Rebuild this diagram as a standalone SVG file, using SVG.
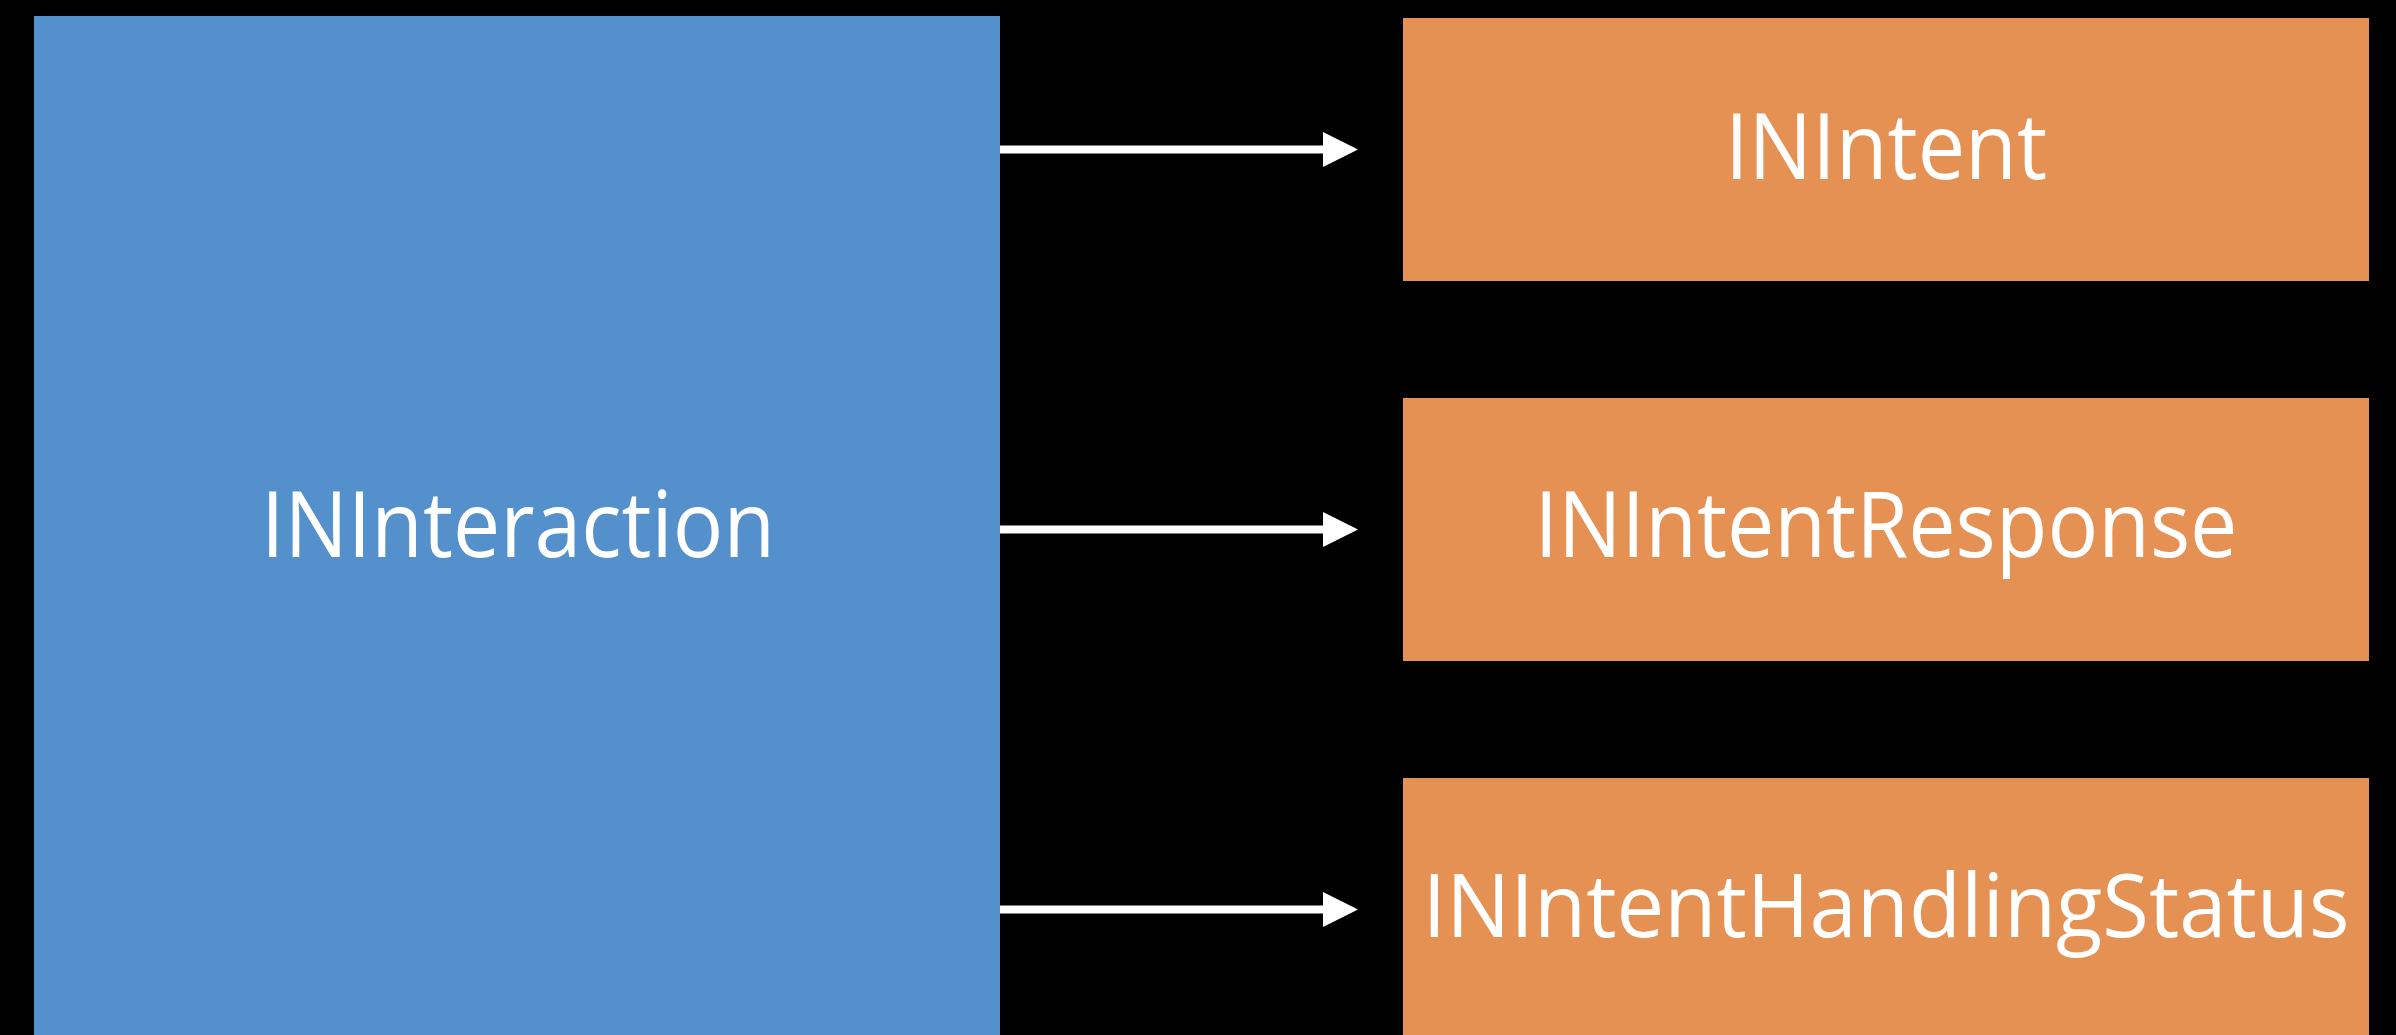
<svg xmlns="http://www.w3.org/2000/svg" width="2396" height="1035" viewBox="0 0 2396 1035">
  <style>
    .interaction { fill: #5490cc; }
    .member { fill: #e69154; }
    .label { fill: #ffffff; font-family: "Open Sans", "Noto Sans", sans-serif; font-size: 92px; text-anchor: middle; }
    .label.long { font-size: 87px; }
    .link { stroke: #ffffff; stroke-width: 8; fill: none; }
    .head { fill: #ffffff; }
  </style>
  <rect x="0" y="0" width="2396" height="1035" fill="#000000"/>

  <g id="node-ininteraction">
    <rect class="interaction" x="34" y="16" width="966" height="1019"/>
    <text class="label" x="518" y="557" textLength="514" lengthAdjust="spacingAndGlyphs">INInteraction</text>
  </g>

  <g id="node-inintent">
    <rect class="member" x="1403" y="18" width="966" height="263"/>
    <text class="label" x="1886" y="179" textLength="322" lengthAdjust="spacingAndGlyphs">INIntent</text>
  </g>

  <g id="node-inintentresponse">
    <rect class="member" x="1403" y="398" width="966" height="263"/>
    <text class="label" x="1886" y="557" textLength="703" lengthAdjust="spacingAndGlyphs">INIntentResponse</text>
  </g>

  <g id="node-inintenthandlingstatus">
    <rect class="member" x="1403" y="778" width="966" height="257"/>
    <text class="label long" x="1886" y="937" textLength="927" lengthAdjust="spacingAndGlyphs">INIntentHandlingStatus</text>
  </g>

  <g id="connectors">
    <line class="link" x1="1000" y1="149.5" x2="1325" y2="149.5"/>
    <polygon class="head" points="1323,132 1358,149.5 1323,167"/>
    <line class="link" x1="1000" y1="529.5" x2="1325" y2="529.5"/>
    <polygon class="head" points="1323,512 1358,529.5 1323,547"/>
    <line class="link" x1="1000" y1="909.5" x2="1325" y2="909.5"/>
    <polygon class="head" points="1323,892 1358,909.5 1323,927"/>
  </g>
</svg>
